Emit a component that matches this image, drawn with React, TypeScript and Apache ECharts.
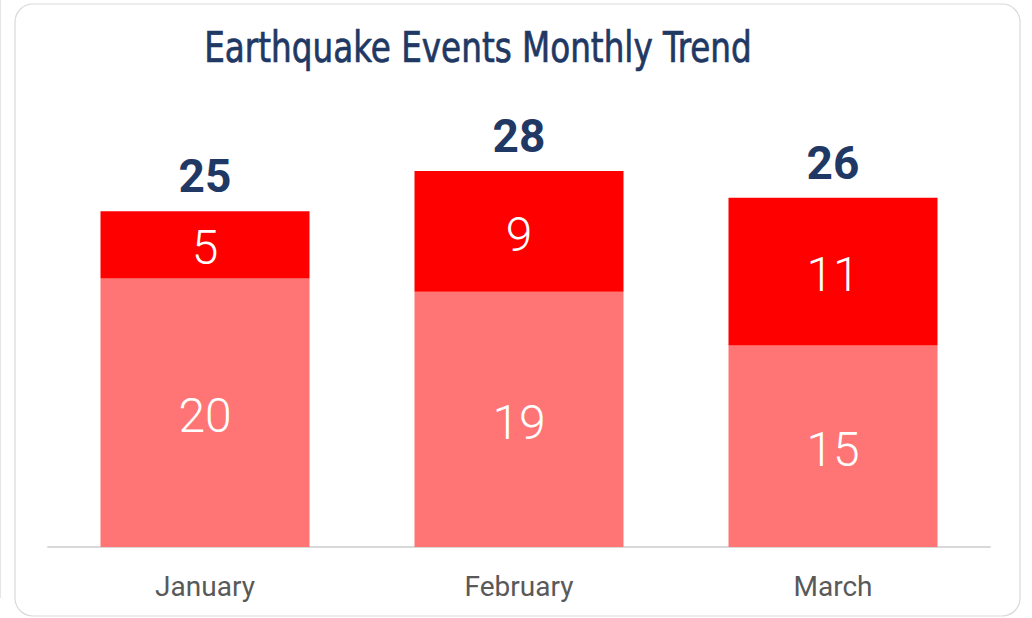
import React, { useEffect, useRef } from "react";
import * as echarts from "echarts";

const months = ["January", "February", "March"];
const baseEvents = [20, 19, 15];
const topEvents = [5, 9, 11];
const totals = [25, 28, 26];
const titleText = "Earthquake Events Monthly Trend";

export default function App() {
  const ref = useRef<HTMLDivElement>(null);
  useEffect(() => {
    if (!ref.current) return;
    const chart = echarts.init(ref.current, undefined, { renderer: "svg" });
    const segLabel = {
      show: true,
      position: "inside",
      offset: [0, 3],
      color: "#ffffff",
      fontSize: 48,
      fontWeight: 300,
      fontFamily: "Roboto, sans-serif",
    };
    const titleBase = {
      text: titleText,
      x: 0,
      y: 0,
      align: "center",
      verticalAlign: "middle",
      fontSize: 42,
      fontFamily: "'DejaVu Sans Condensed', 'DejaVu Sans', sans-serif",
      fontWeight: "normal",
    };
    chart.setOption({
      animation: false,
      backgroundColor: "#ffffff",
      graphic: [
        {
          type: "rect",
          shape: { x: 15, y: 4, width: 1005, height: 612, r: 18 },
          style: { fill: "#ffffff", stroke: "#d9d9d9", lineWidth: 1.2 },
          z: -10,
        },
        {
          type: "line",
          shape: { x1: 0.5, y1: 0, x2: 0.5, y2: 598 },
          style: { stroke: "#e6e6e6", lineWidth: 1 },
          z: -10,
        },
        {
          type: "text",
          x: 478,
          y: 48,
          scaleX: 0.864,
          z: 10,
          style: {
            ...titleBase,
            fill: "#ffffff",
            stroke: "#ffffff",
            lineWidth: 8,
            shadowColor: "rgba(0,0,0,0.4)",
            shadowBlur: 4,
          },
        },
        {
          type: "text",
          x: 478,
          y: 48,
          scaleX: 0.864,
          z: 11,
          style: {
            ...titleBase,
            fill: "#1F3864",
            stroke: "#1F3864",
            lineWidth: 0.7,
          },
        },
      ],
      grid: { left: 48, right: 42, top: 77, bottom: 71, containLabel: false },
      xAxis: {
        type: "category",
        data: months,
        axisLine: { show: true, lineStyle: { color: "#d9d9d9", width: 2 } },
        axisTick: { show: false },
        axisLabel: {
          color: "#595959",
          fontSize: 28,
          fontFamily: "Roboto, sans-serif",
          margin: 25,
        },
      },
      yAxis: {
        type: "value",
        min: 0,
        max: 35,
        show: false,
        splitLine: { show: false },
      },
      series: [
        {
          type: "bar",
          stack: "s",
          data: baseEvents,
          barWidth: 209,
          itemStyle: { color: "#FF7575" },
          label: segLabel,
        },
        {
          type: "bar",
          stack: "s",
          data: topEvents,
          barWidth: 209,
          itemStyle: { color: "#FF0000" },
          label: segLabel,
        },
        {
          type: "bar",
          stack: "s",
          data: months.map(() => 0),
          barWidth: 209,
          itemStyle: { color: "transparent" },
          label: {
            show: true,
            position: "top",
            distance: 12,
            formatter: (p: any) => String(totals[p.dataIndex]),
            color: "#1F3864",
            fontSize: 46,
            fontWeight: "bold",
            fontFamily: "Roboto, sans-serif",
          },
        },
      ],
    });
    return () => chart.dispose();
  }, []);
  return (
    <div
      ref={ref}
      style={{ position: "fixed", left: 0, top: 0, width: 1032, height: 618 }}
    />
  );
}
